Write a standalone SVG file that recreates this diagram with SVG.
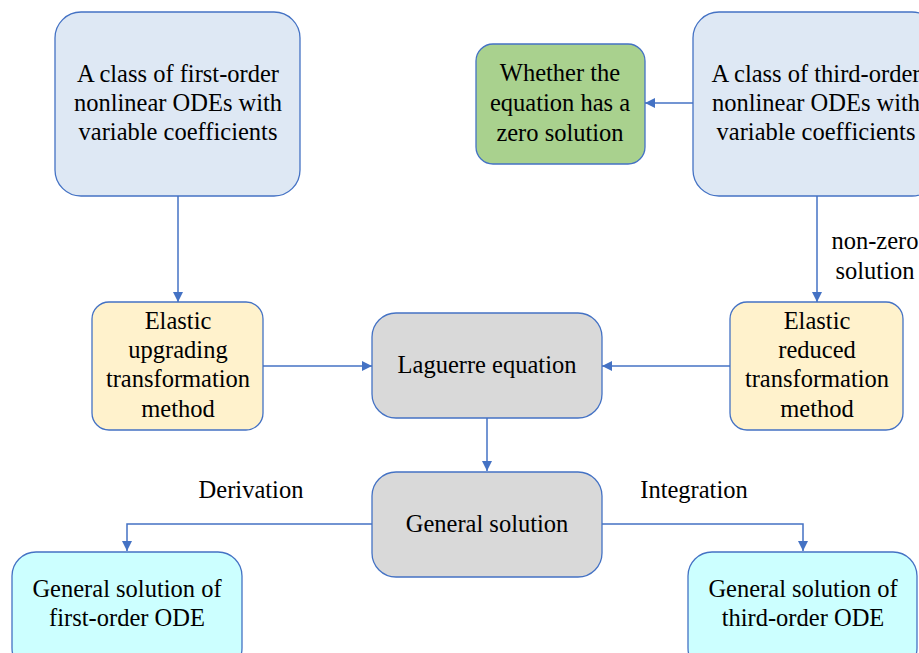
<svg xmlns="http://www.w3.org/2000/svg" width="919" height="653" viewBox="0 0 919 653">
<defs>
<marker id="ah" viewBox="0 0 10 10" refX="10" refY="5" markerWidth="10" markerHeight="10" markerUnits="userSpaceOnUse" orient="auto">
<path d="M0,0 L10,5 L0,10 z" fill="#4472c4"/>
</marker>
<style>
text{font-family:'Liberation Serif','Times New Roman',serif !important;font-size:24.5px;fill:#000;text-anchor:middle}
</style>
</defs>
<rect width="919" height="653" fill="#fff"/>
<g id="connectors" fill="none" stroke="#4472c4" stroke-width="1.5" marker-end="url(#ah)">
<path d="M178,196 L178,302"/>
<path d="M693,103 L645,103"/>
<path d="M817,196 L817,302"/>
<path d="M263,366 L372,366"/>
<path d="M730,366 L602,366"/>
<path d="M487,418 L487,471"/>
<path d="M372,524 L127,524 L127,551"/>
<path d="M602,524 L803,524 L803,551"/>
</g>
<g stroke="#4472c4" stroke-width="1.3">
<rect id="r1" fill="#dee8f4" x="55" y="12" width="245" height="184" rx="26"/>
<rect id="r2" fill="#dee8f4" x="693" y="12" width="245" height="184" rx="26"/>
<rect id="r3" fill="#a9d18e" x="476" y="44" width="169" height="120" rx="17"/>
<rect id="r4" fill="#fff2cc" x="92" y="302" width="171" height="128" rx="17"/>
<rect id="r5" fill="#d9d9d9" x="372" y="313" width="230" height="105" rx="24"/>
<rect id="r6" fill="#fff2cc" x="730" y="302" width="173" height="128" rx="17"/>
<rect id="r7" fill="#d9d9d9" x="372" y="472" width="230" height="105" rx="24"/>
<rect id="r8" fill="#ccffff" x="12" y="552" width="230" height="120" rx="24"/>
<rect id="r9" fill="#ccffff" x="688" y="552" width="229" height="120" rx="24"/>
</g>
<g id="n1">
<text style="font-family:'Liberation Serif',serif" x="178" y="82">A class of first-order</text>
<text style="font-family:'Liberation Serif',serif" x="178" y="111">nonlinear ODEs with</text>
<text style="font-family:'Liberation Serif',serif" x="178" y="140">variable coefficients</text>
</g>
<g id="n2">
<text style="font-family:'Liberation Serif',serif" x="816" y="82">A class of third-order</text>
<text style="font-family:'Liberation Serif',serif" x="816" y="111">nonlinear ODEs with</text>
<text style="font-family:'Liberation Serif',serif" x="816" y="140">variable coefficients</text>
</g>
<g id="n3">
<text style="font-family:'Liberation Serif',serif" x="560" y="81">Whether the</text>
<text style="font-family:'Liberation Serif',serif" x="560" y="111">equation has a</text>
<text style="font-family:'Liberation Serif',serif" x="560" y="141">zero solution</text>
</g>
<g id="label-nonzero">
<text style="font-family:'Liberation Serif',serif" x="875" y="249">non-zero</text>
<text style="font-family:'Liberation Serif',serif" x="875" y="279">solution</text>
</g>
<g id="n4">
<text style="font-family:'Liberation Serif',serif" x="178" y="329">Elastic</text>
<text style="font-family:'Liberation Serif',serif" x="178" y="358">upgrading</text>
<text style="font-family:'Liberation Serif',serif" x="178" y="387">transformation</text>
<text style="font-family:'Liberation Serif',serif" x="178" y="417">method</text>
</g>
<g id="n5">
<text style="font-family:'Liberation Serif',serif" x="487" y="373">Laguerre equation</text>
</g>
<g id="n6">
<text style="font-family:'Liberation Serif',serif" x="817" y="329">Elastic</text>
<text style="font-family:'Liberation Serif',serif" x="817" y="358">reduced</text>
<text style="font-family:'Liberation Serif',serif" x="817" y="387">transformation</text>
<text style="font-family:'Liberation Serif',serif" x="817" y="417">method</text>
</g>
<g id="n7">
<text style="font-family:'Liberation Serif',serif" x="487" y="532">General solution</text>
</g>
<g id="label-derivation"><text style="font-family:'Liberation Serif',serif" x="251" y="498">Derivation</text></g>
<g id="label-integration"><text style="font-family:'Liberation Serif',serif" x="694" y="498">Integration</text></g>
<g id="n8">
<text style="font-family:'Liberation Serif',serif" x="127" y="597">General solution of</text>
<text style="font-family:'Liberation Serif',serif" x="127" y="626">first-order ODE</text>
</g>
<g id="n9">
<text style="font-family:'Liberation Serif',serif" x="803" y="597">General solution of</text>
<text style="font-family:'Liberation Serif',serif" x="803" y="626">third-order ODE</text>
</g>
</svg>
